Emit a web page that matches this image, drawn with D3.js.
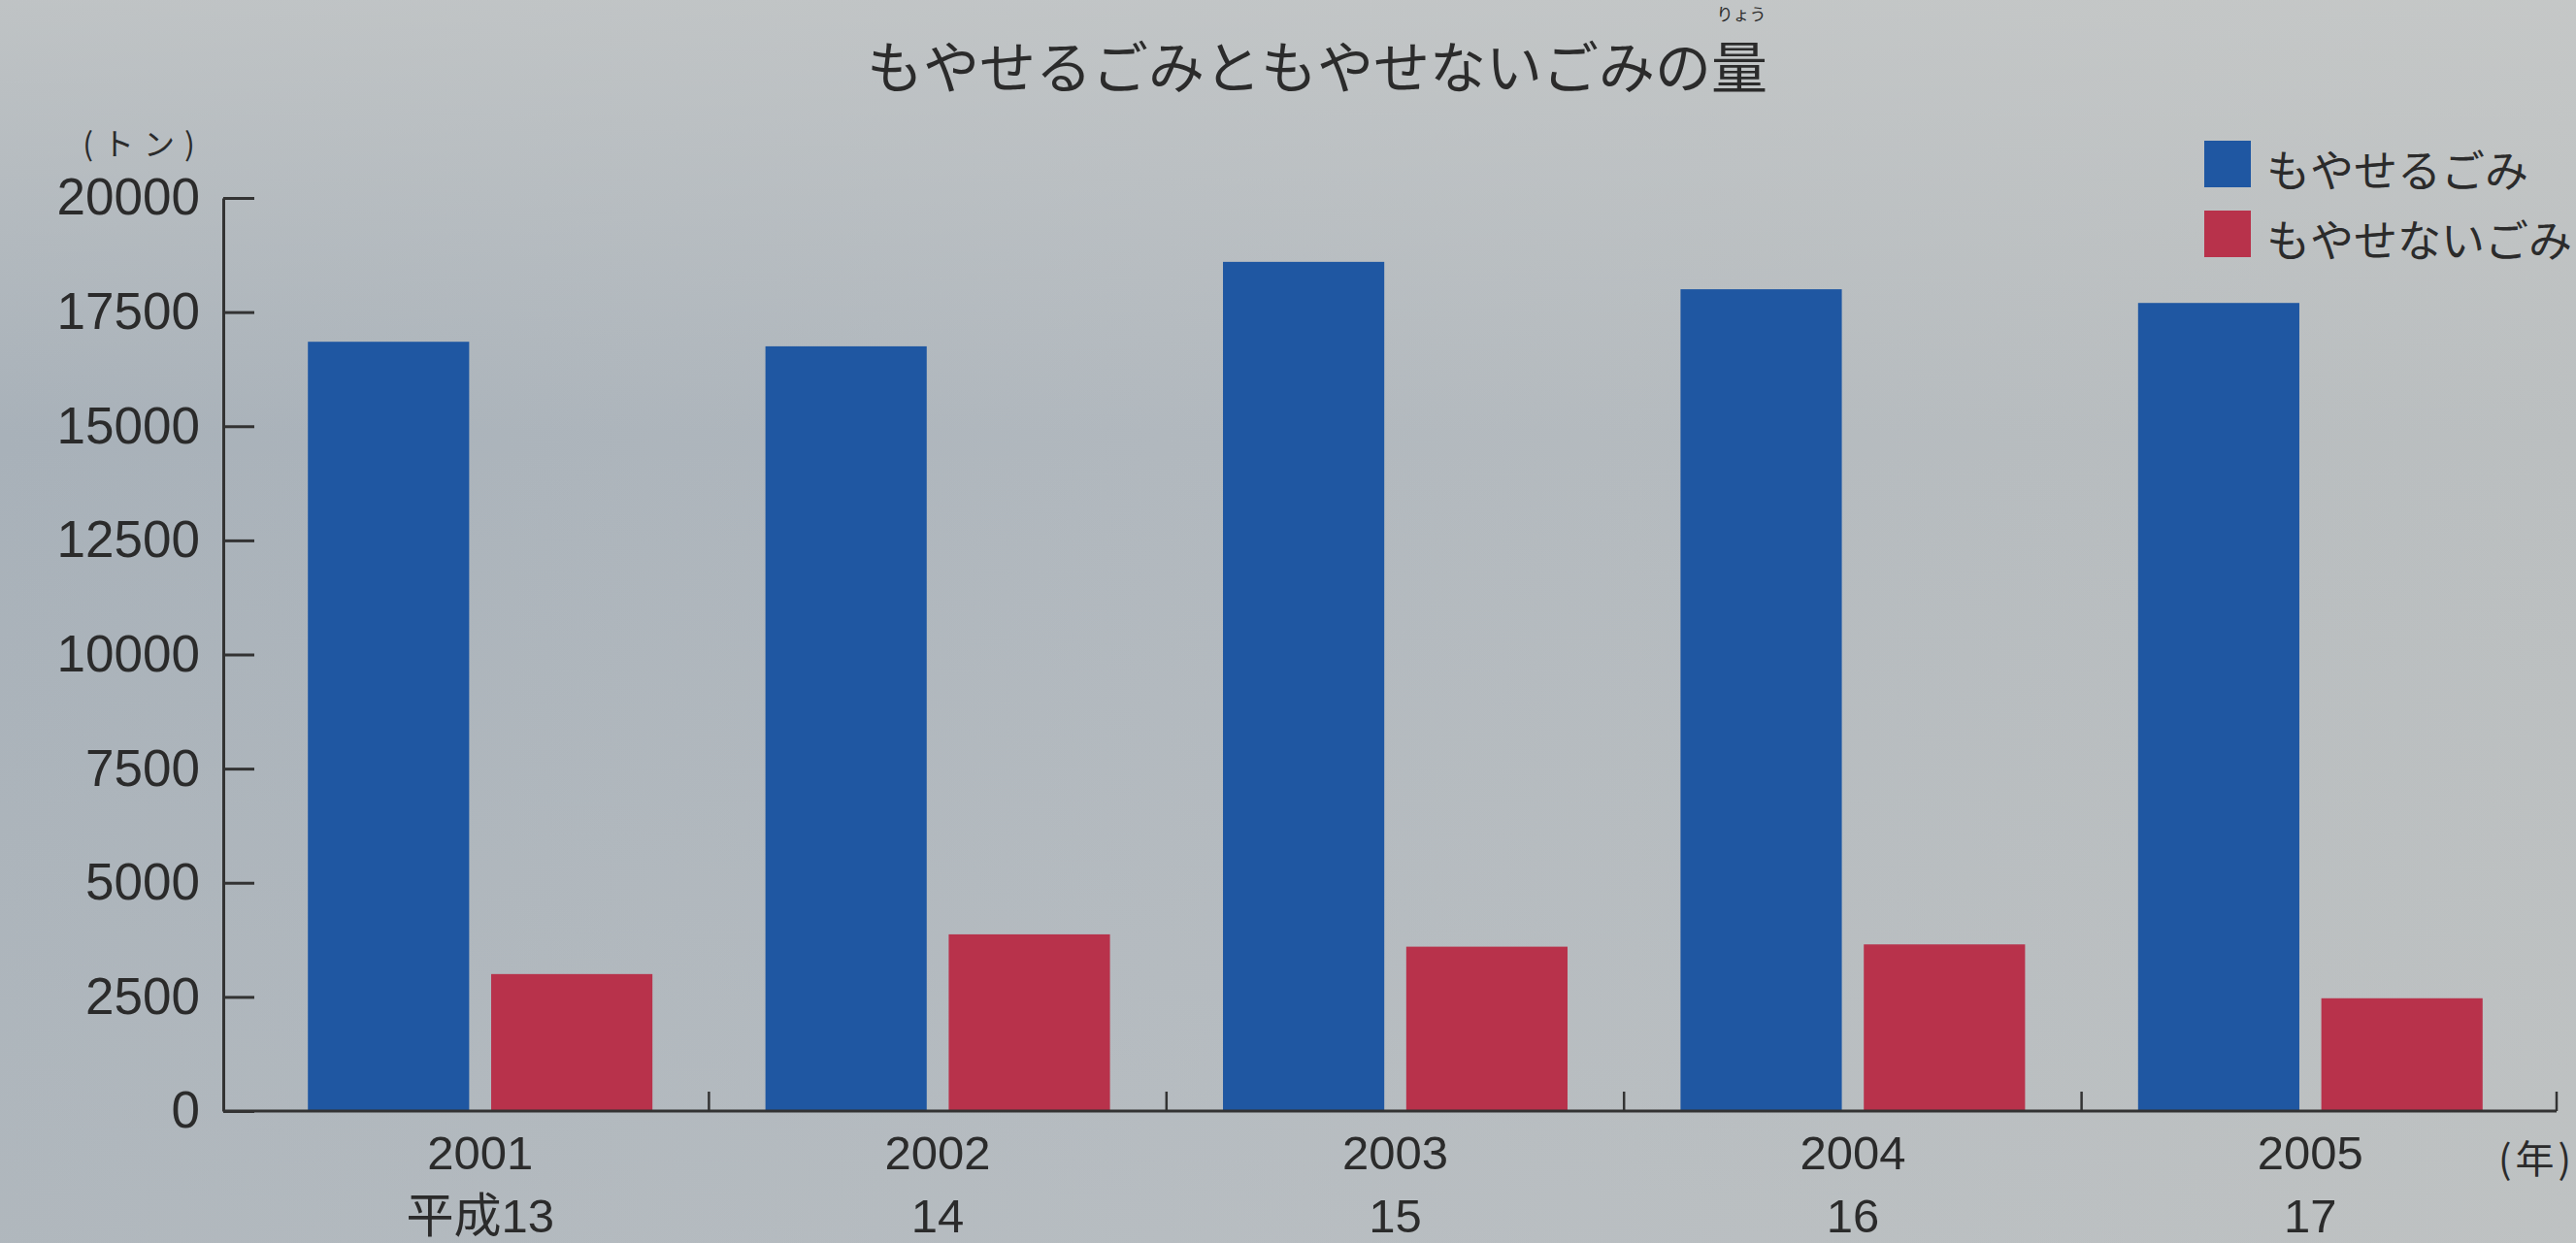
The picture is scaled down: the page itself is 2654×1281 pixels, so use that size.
<!DOCTYPE html>
<html>
<head>
<meta charset="utf-8">
<script src="https://cdn.jsdelivr.net/npm/d3@7/dist/d3.min.js"></script>
<style>
  html, body { margin: 0; padding: 0; overflow: hidden; }
  svg { display: block; }
  text { fill: #2b2b2b; }
</style>
</head>
<body>
<svg id="svg1"></svg>
<script>
var width = 2654;
var height = 1281;

var years = ['2001', '2002', '2003', '2004', '2005'];
var heiseiLabels = ['平成13', '14', '15', '16', '17'];
var seriesNames = ['もやせるごみ', 'もやせないごみ'];
var burnable = [16850, 16750, 18600, 18000, 17700];
var nonBurnable = [3000, 3870, 3600, 3650, 2470];
var yTicks = [0, 2500, 5000, 7500, 10000, 12500, 15000, 17500, 20000];
var colors = ['#1f57a2', '#b8324b'];

var jpFont = "'Noto Sans CJK JP', 'Noto Sans', sans-serif";
var numFont = "'Liberation Sans', Arial, sans-serif";

var svg = d3.select('#svg1')
    .attr('width', width)
    .attr('height', height);

// photo-like background
var defs = svg.append('defs');
var bg = defs.append('linearGradient').attr('id', 'bg')
    .attr('x1', '0').attr('y1', '0').attr('x2', '1').attr('y2', '0');
bg.append('stop').attr('offset', '0').attr('stop-color', '#a8b1b9');
bg.append('stop').attr('offset', '0.45').attr('stop-color', '#b1b8be');
bg.append('stop').attr('offset', '1').attr('stop-color', '#bbbfc0');
var bgTop = defs.append('linearGradient').attr('id', 'bgTop')
    .attr('x1', '0').attr('y1', '0').attr('x2', '0').attr('y2', '1');
bgTop.append('stop').attr('offset', '0').attr('stop-color', '#c9cbca').attr('stop-opacity', 0.7);
bgTop.append('stop').attr('offset', '0.35').attr('stop-color', '#c9cbca').attr('stop-opacity', 0);
bgTop.append('stop').attr('offset', '1').attr('stop-color', '#c9cbca').attr('stop-opacity', 0.25);

svg.append('rect').attr('width', width).attr('height', height).attr('fill', 'url(#bg)');
svg.append('rect').attr('width', width).attr('height', height).attr('fill', 'url(#bgTop)');

var axisX = 230;

var xScale = d3.scaleBand()
    .domain(years)
    .range([259, 2616])
    .paddingInner(0.247)
    .paddingOuter(0.1235);

var subScale = d3.scaleBand()
    .domain(seriesNames)
    .range([0, xScale.bandwidth()])
    .paddingInner(0.12);

var yScale = d3.scaleLinear()
    .domain([0, 20000])
    .range([1145, 204]);

var rows = years.map(function(y, i) {
    return { year: y, values: [burnable[i], nonBurnable[i]] };
});

// bars
var groups = svg.append('g').selectAll('g').data(rows).enter()
    .append('g')
    .attr('transform', function(d) { return 'translate(' + xScale(d.year) + ',0)'; });

groups.selectAll('rect')
    .data(function(d) { return d.values.map(function(v, k) { return { name: seriesNames[k], value: v, k: k }; }); })
    .enter().append('rect')
    .attr('x', function(d) { return subScale(d.name); })
    .attr('y', function(d) { return yScale(d.value); })
    .attr('width', subScale.bandwidth())
    .attr('height', function(d) { return yScale(0) - yScale(d.value); })
    .attr('fill', function(d) { return colors[d.k]; });

// y axis, ticks pointing inward
var yAxis = d3.axisLeft(yScale)
    .tickValues(yTicks)
    .tickSizeInner(-32)
    .tickSizeOuter(0)
    .tickPadding(24)
    .tickFormat(d3.format('d'));

var yG = svg.append('g')
    .attr('transform', 'translate(' + axisX + ',0)')
    .call(yAxis);
yG.selectAll('path, line').attr('stroke', '#333').attr('stroke-width', 3);
yG.selectAll('text')
    .style('font-family', numFont)
    .style('font-size', '53px')
    .attr('fill', '#2b2b2b');

// x axis line with separator ticks
var xEnd = xScale.range()[1] + 18;
svg.append('line')
    .attr('x1', axisX).attr('x2', xEnd)
    .attr('y1', yScale(0)).attr('y2', yScale(0))
    .attr('stroke', '#333').attr('stroke-width', 3);

var seps = years.map(function(y, i) {
    return i < years.length - 1 ? xScale(y) + xScale.step() - xScale.step() * xScale.paddingInner() / 2 : xEnd;
});
svg.append('g').selectAll('line').data(seps).enter()
    .append('line')
    .attr('x1', function(d) { return d; })
    .attr('x2', function(d) { return d; })
    .attr('y1', yScale(0))
    .attr('y2', yScale(0) - 20)
    .attr('stroke', '#333').attr('stroke-width', 2.5);

// x labels
var labG = svg.append('g');
labG.selectAll('text.year').data(years).enter()
    .append('text').attr('class', 'year')
    .attr('x', function(d) { return xScale(d) + xScale.bandwidth() / 2; })
    .attr('y', 1188)
    .attr('text-anchor', 'middle')
    .attr('dominant-baseline', 'central')
    .style('font-family', numFont)
    .style('font-size', '49px')
    .text(function(d) { return d; });

labG.selectAll('text.heisei').data(heiseiLabels).enter()
    .append('text').attr('class', 'heisei')
    .attr('x', function(d, i) { return xScale(years[i]) + xScale.bandwidth() / 2; })
    .attr('y', 1253)
    .attr('text-anchor', 'middle')
    .attr('dominant-baseline', 'central')
    .style('font-family', numFont + ", 'Noto Sans CJK JP'")
    .style('font-size', '49px')
    .text(function(d) { return d; });

svg.append('text')
    .attr('x', 2574).attr('y', 1192)
    .attr('dominant-baseline', 'central')
    .style('font-family', jpFont)
    .style('font-size', '40px')
    .style('letter-spacing', '4px')
    .text('(年)');

// unit
svg.append('text')
    .attr('x', 148).attr('y', 146)
    .attr('text-anchor', 'middle')
    .attr('dominant-baseline', 'central')
    .style('font-family', jpFont)
    .style('font-size', '32px')
    .style('letter-spacing', '10px')
    .text('(トン)');

// title with furigana
svg.append('text')
    .attr('x', 1357).attr('y', 66)
    .attr('text-anchor', 'middle')
    .attr('dominant-baseline', 'central')
    .style('font-family', jpFont)
    .style('font-size', '58px')
    .text('もやせるごみともやせないごみの量');

svg.append('text')
    .attr('x', 1794).attr('y', 13)
    .attr('text-anchor', 'middle')
    .attr('dominant-baseline', 'central')
    .style('font-family', jpFont)
    .style('font-size', '17px')
    .text('りょう');

// legend
var legend = svg.append('g').attr('transform', 'translate(2271,145)');
var li = legend.selectAll('g').data(seriesNames).enter()
    .append('g')
    .attr('transform', function(d, i) { return 'translate(0,' + (i * 72) + ')'; });
li.append('rect')
    .attr('width', 48).attr('height', 48)
    .attr('fill', function(d, i) { return colors[i]; });
li.append('text')
    .attr('x', 64).attr('y', 28)
    .attr('dominant-baseline', 'central')
    .style('font-family', jpFont)
    .style('font-size', '45px')
    .text(function(d) { return d; });
</script>
</body>
</html>
